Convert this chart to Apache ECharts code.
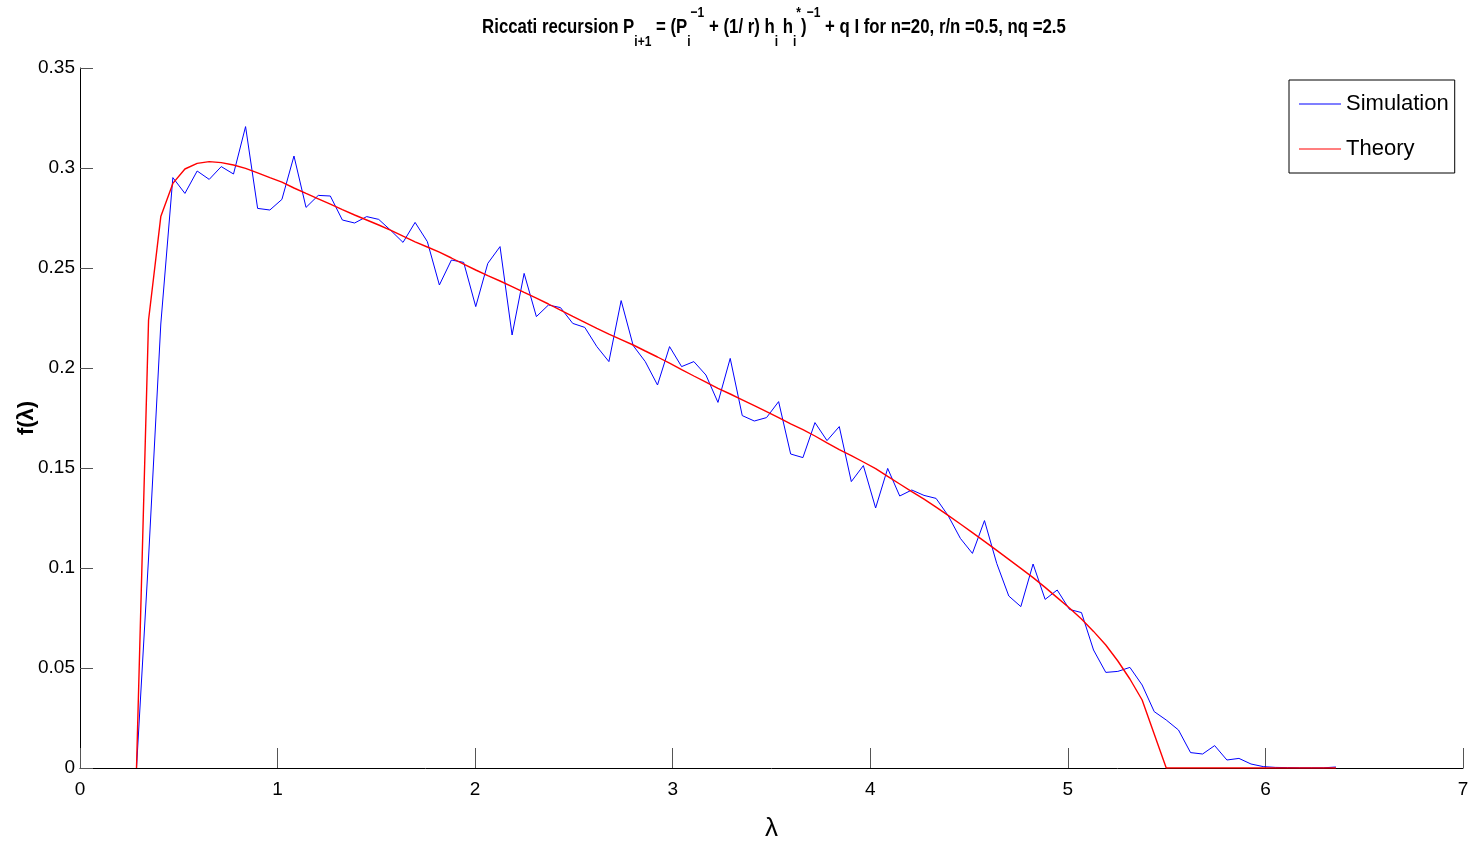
<!DOCTYPE html>
<html>
<head>
<meta charset="utf-8">
<title>Riccati recursion</title>
<script src="https://cdn.jsdelivr.net/npm/echarts@6/dist/echarts.min.js"></script>
<style>
  html, body { margin: 0; padding: 0; background: #fff; }
  #chart { width: 1470px; height: 841px; }
</style>
</head>
<body>
<div id="chart"></div>
<script>
// lambda grid (histogram bin positions)
var lambda = [
  0.286, 0.347, 0.409, 0.470, 0.531, 0.593, 0.654, 0.715, 0.777, 0.838,
  0.899, 0.961, 1.022, 1.083, 1.144, 1.206, 1.267, 1.328, 1.390, 1.451,
  1.512, 1.574, 1.635, 1.696, 1.758, 1.819, 1.880, 1.942, 2.003, 2.064,
  2.126, 2.187, 2.248, 2.310, 2.371, 2.432, 2.494, 2.555, 2.616, 2.677,
  2.739, 2.800, 2.861, 2.923, 2.984, 3.045, 3.107, 3.168, 3.229, 3.291,
  3.352, 3.413, 3.475, 3.536, 3.597, 3.659, 3.720, 3.781, 3.843, 3.904,
  3.965, 4.027, 4.088, 4.149, 4.210, 4.272, 4.333, 4.394, 4.456, 4.517,
  4.578, 4.640, 4.701, 4.762, 4.824, 4.885, 4.946, 5.008, 5.069, 5.130,
  5.192, 5.253, 5.314, 5.376, 5.437, 5.498, 5.560, 5.621, 5.682, 5.743,
  5.805, 5.866, 5.927, 5.989, 6.050, 6.111, 6.173, 6.234, 6.295, 6.357
];

var simulation = [
  0, 0.105, 0.222, 0.2952, 0.2873, 0.2985, 0.2943, 0.3007, 0.297, 0.3207,
  0.2798, 0.279, 0.2843, 0.306, 0.2803, 0.2863, 0.286, 0.274, 0.2725, 0.2757,
  0.2743, 0.2687, 0.2628, 0.2728, 0.2632, 0.2415, 0.254, 0.2528, 0.2307, 0.2523,
  0.2607, 0.2165, 0.2473, 0.2257, 0.2315, 0.2302, 0.2223, 0.2203, 0.2107, 0.2032,
  0.2337, 0.2112, 0.2032, 0.1915, 0.2107, 0.2007, 0.2032, 0.1965, 0.1828, 0.2048,
  0.1762, 0.1735, 0.1752, 0.1832, 0.157, 0.1552, 0.1727, 0.1637, 0.1707, 0.1432,
  0.1512, 0.130, 0.1498, 0.136, 0.139, 0.1363, 0.1348, 0.1262, 0.1148, 0.1073,
  0.1237, 0.1023, 0.086, 0.0807, 0.102, 0.0843, 0.089, 0.0793, 0.0777, 0.059,
  0.0478, 0.0483, 0.0503, 0.0415, 0.0282, 0.024, 0.019, 0.0077, 0.007, 0.0112,
  0.004, 0.0048, 0.002, 0.0007, 0.0003, 0.0002, 0.0001, 0.0001, 0.0001, 0.0005
];

var theory = [
  0, 0.224, 0.2757, 0.2923, 0.2995, 0.3023, 0.3032, 0.3027, 0.3015, 0.2998,
  0.2976, 0.2952, 0.2929, 0.2900, 0.2873, 0.2846, 0.2819, 0.2792, 0.2765, 0.2740,
  0.2715, 0.2688, 0.2659, 0.2631, 0.2605, 0.2579, 0.2550, 0.2519, 0.2490, 0.2462,
  0.2435, 0.2407, 0.2378, 0.2349, 0.2320, 0.2289, 0.2258, 0.2228, 0.2198, 0.2169,
  0.2142, 0.2115, 0.2085, 0.2055, 0.2024, 0.1992, 0.1960, 0.1929, 0.1898, 0.1870,
  0.1841, 0.1812, 0.1782, 0.1752, 0.1721, 0.1692, 0.1660, 0.1626, 0.1592, 0.1562,
  0.1530, 0.1497, 0.1458, 0.1420, 0.1382, 0.1344, 0.1304, 0.1263, 0.1220, 0.1177,
  0.1133, 0.1088, 0.1043, 0.0998, 0.0952, 0.0903, 0.0852, 0.0800, 0.0745, 0.0683,
  0.0615, 0.0535, 0.0445, 0.0340, 0.0170, 0, 0, 0, 0, 0,
  0, 0, 0, 0, 0, 0, 0, 0, 0, 0
];

var seriesNames = ['Simulation', 'Theory'];

var titleText = '{m|Riccati recursion P}{sb|i+1}{m| = (P}{sb|i}{sp|\u22121}{m| + (1/ r) h}{sb|i}{m| h}{sb|i}{sp|*}{m|)}{sp|\u22121}{m| + q I for n=20, r/n =0.5, nq =2.5}';

function pairs(xs, ys) {
  var out = [];
  for (var i = 0; i < xs.length; i++) {
    out.push([xs[i], ys[i]]);
  }
  return out;
}

var font = "'Liberation Sans', Arial, sans-serif";

var myChart = echarts.init(document.getElementById('chart'));
var option = {
  animation: false,
  backgroundColor: '#fff',
  // title drawn as text, squeezed horizontally like the narrow original
  graphic: [{
    type: 'text',
    x: 774,
    y: 27,
    scaleX: 0.8,
    scaleY: 1,
    silent: true,
    style: {
      text: titleText,
      align: 'center',
      verticalAlign: 'middle',
      textAlign: 'center',
      textVerticalAlign: 'middle',
      rich: {
        m: { fontFamily: font, fontWeight: 'bold', fontSize: 21, fill: '#000', lineHeight: 44, verticalAlign: 'middle' },
        sb: { fontFamily: font, fontWeight: 'bold', fontSize: 15, fill: '#000', lineHeight: 17, verticalAlign: 'bottom' },
        sp: { fontFamily: font, fontWeight: 'bold', fontSize: 15, fill: '#000', lineHeight: 17, verticalAlign: 'top' }
      }
    }
  }],
  legend: {
    orient: 'vertical',
    left: 1289,
    top: 80,
    padding: [11, 6, 11, 10],
    itemGap: 19,
    itemWidth: 42,
    itemHeight: 1.2,
    icon: 'rect',
    borderColor: '#000',
    borderWidth: 1,
    backgroundColor: '#fff',
    borderRadius: 0,
    textStyle: { fontFamily: font, fontSize: 22, lineHeight: 26, color: '#000' },
    data: seriesNames
  },
  grid: {
    left: 80,
    top: 68,
    right: 7,
    bottom: 73,
    containLabel: false,
    outerBoundsMode: 'none'
  },
  xAxis: {
    type: 'value',
    min: 0,
    max: 7,
    interval: 1,
    name: '\u03bb',
    nameLocation: 'middle',
    nameGap: 48,
    nameMoveOverlap: false,
    nameTextStyle: { fontFamily: font, fontSize: 26, color: '#000' },
    axisLine: { lineStyle: { color: '#000', width: 1 } },
    axisTick: { inside: true, length: 20, lineStyle: { color: '#555' } },
    axisLabel: { fontFamily: font, fontSize: 19, color: '#000', margin: 12 },
    splitLine: { show: false }
  },
  yAxis: {
    type: 'value',
    min: 0,
    max: 0.35,
    interval: 0.05,
    name: 'f(\u03bb)',
    nameLocation: 'middle',
    nameRotate: 90,
    nameGap: 42,
    nameMoveOverlap: false,
    nameTextStyle: { fontFamily: font, fontSize: 22, fontWeight: 'bold', color: '#000' },
    axisLine: { show: true, lineStyle: { color: '#000', width: 1 } },
    axisTick: { show: true, inside: true, length: 13, lineStyle: { color: '#555' } },
    axisLabel: { fontFamily: font, fontSize: 19, color: '#000', margin: 5 },
    splitLine: { show: false }
  },
  series: [
    {
      name: seriesNames[0],
      type: 'line',
      symbol: 'none',
      lineStyle: { color: '#0000ff', width: 1 },
      itemStyle: { color: '#0000ff' },
      data: pairs(lambda, simulation)
    },
    {
      name: seriesNames[1],
      type: 'line',
      symbol: 'none',
      lineStyle: { color: '#ff0000', width: 1.4 },
      itemStyle: { color: '#ff0000' },
      data: pairs(lambda, theory)
    }
  ]
};
myChart.setOption(option);
</script>
</body>
</html>
